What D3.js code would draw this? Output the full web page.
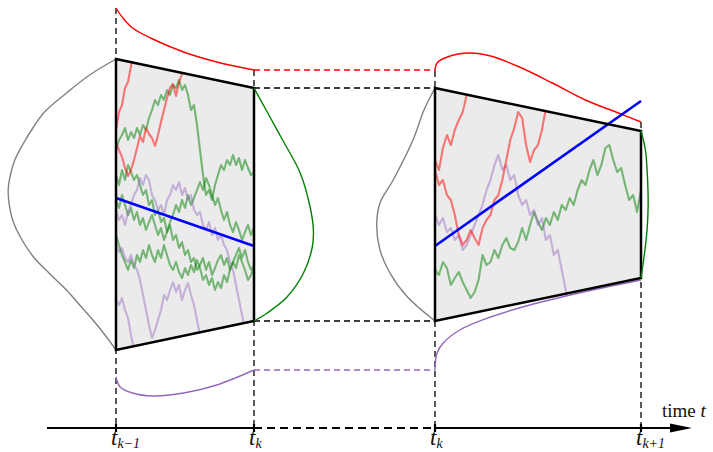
<!DOCTYPE html>
<html>
<head>
<meta charset="utf-8">
<script src="https://cdn.jsdelivr.net/npm/d3@7"></script>
<style>
  html, body { margin: 0; padding: 0; background: #fff; }
  svg { display: block; }
</style>
</head>
<body>
<svg id="chart" width="713" height="452"></svg>
<script>
// ---- Data ---------------------------------------------------------------
// State units: 0 is the centre of the first window, positive is upward.
// Time inside each window runs from 0 (window start) to 1 (window end).

// window boundaries [value at start, value at end]
const leftUpper  = [146, 117];
const leftLower  = [-145, -116];
const rightUpper = [117, 74];
const rightLower = [-116, -73];

// drift (mean) lines
const leftDrift  = [7, -41];
const rightDrift = [-41, 104];

// density of the state at window start / end: [state, density]
const leftStartDensity = [[146,0],[130,0.24],[112,0.45],[93,0.65],[78,0.75],[60,0.85],[45,0.92],[30,0.96],[15,0.98],[0,0.97],[-15,0.94],[-32,0.87],[-52,0.75],[-69,0.6],[-85,0.45],[-100,0.33],[-115,0.21],[-130,0.1],[-145,0]];
const leftEndDensity   = [[117,0],[95,0.11],[65,0.26],[32,0.42],[-2,0.51],[-25,0.54],[-42,0.53],[-68,0.45],[-92,0.3],[-108,0.12],[-116,0]];
const rightStartDensity = [[117,0],[95,0.1],[65,0.2],[25,0.38],[2,0.5],[-20,0.53],[-45,0.5],[-68,0.41],[-92,0.25],[-116,0]];
const rightEndDensity   = [[74,0],[55,0.04],[25,0.06],[0,0.065],[-25,0.055],[-50,0.03],[-73,0]];

// first-passage curves through the upper and lower boundary: [time, state]
const leftUpperHit  = [[0,197],[0.05,187],[0.12,177],[0.25,167],[0.49,153],[0.73,143],[1,135]];
const rightUpperHit = [[0,134],[0.01,142],[0.06,148],[0.17,152],[0.27,149],[0.41,138],[0.57,122],[0.73,105],[0.89,92],[1,83]];
const leftLowerHit  = [[0,-172],[0.03,-182],[0.12,-188],[0.27,-191],[0.49,-188],[0.73,-180],[1,-165]];
const rightLowerHit = [[0,-165],[0.01,-148],[0.04,-138],[0.12,-125],[0.27,-112],[0.46,-100],[0.7,-88],[1,-75]];

// sample paths, one value per time step (46 steps left, 52 steps right)
const leftSteps = 46, rightSteps = 52;
const leftPaths = [
  { kind: "alive", values: [55,65,70,77,65,73,67,77,70,80,75,87,95,105,100,110,105,115,110,120,117,125,115,120,110,95,100,80,55,30,10,15,5,20,30,40,35,45,40,50,40,47,35,45,37,30,33] },
  { kind: "alive", values: [30,20,35,25,40,33,25,30,20,10,15,0,5,-10,-5,-17,-13,-27,-20,-35,-30,-43,-37,-50,-45,-57,-53,-65,-60,-53,-65,-57,-70,-63,-55,-50,-60,-53,-65,-57,-50,-43,-53,-45,-57,-65,-60] },
  { kind: "alive", values: [-30,-40,-50,-57,-65,-55,-63,-50,-57,-45,-53,-40,-50,-57,-45,-53,-40,-50,-60,-65,-57,-67,-73,-63,-70,-60,-67,-55,-63,-75,-70,-80,-73,-85,-77,-83,-70,-77,-65,-57,-63,-50,-57,-65,-75,-70,-63] },
  { kind: "alive", values: [5,-3,10,0,-10,-3,-15,-7,-20,-13,-25,-17,-10,-20,-30,-23,-35,-27,-17,-10,0,-7,5,-3,10,0,7,15,23,15,27,20,10,0,7,-5,-15,-7,-20,-27,-17,-25,-35,-27,-20,-30,-23] },
  { kind: "down", values: [-5,-15,-10,-20,-7,0,10,15,27,20,30,25,10,5,-5,0,-10,5,10,20,15,23,10,17,5,10,-5,-10,-7,-20,-25,-17,-30,-23,-35,-30,-40,-45,-57,-65,-80,-95,-110,-125] },
  { kind: "down", values: [-95,-100,-93,-105,-113,-130,-145] },
  { kind: "down", values: [-40,-47,-43,-53,-57,-50,-60,-65,-75,-90,-105,-120,-133,-125,-115,-105,-90,-95,-85,-77,-87,-80,-95,-85,-78,-90,-100,-115,-130] },
  { kind: "up", values: [75,93,100,117,123,139,155] },
  { kind: "up", values: [62,55,48,37,29,35,45,57,69,63,77,71,67,59,70,83,95,107,117,121,109,123,131,145] }
];
const rightPaths = [
  { kind: "alive", values: [-65,-70,-57,-63,-80,-73,-67,-77,-85,-93,-87,-75,-50,-60,-57,-45,-53,-40,-33,-43,-45,-37,-23,-35,-20,-7,-17,-25,-13,-20,-7,-15,0,-5,7,0,15,25,20,35,45,30,40,57,60,45,33,37,20,5,10,-7,15] },
  { kind: "down", values: [-10,-20,-13,-27,-23,-35,-30,-45,-40,-30,-20,-10,0,15,25,40,50,35,40,25,30,10,0,5,-10,-5,-20,-13,-35,-30,-50,-45,-65,-85,-100] },
  { kind: "up", values: [45,35,57,70,60,75,85,93,110,120] },
  { kind: "up", values: [35,20,25,10,5,-10,-30,-40,-35,-25,-33,-40,-23,-15,-10,5,10,25,45,65,77,93,87,60,43,55,60,75,97,110] }
];

// time axis labels: [symbol, subscript]
const tickLabels = [["t", "k\u22121"], ["t", "k"], ["t", "k"], ["t", "k+1"]];
const axisTitle = ["time ", "t"];

// ---- Scales -------------------------------------------------------------
const svg = d3.select("#chart");
const y  = d3.scaleLinear().domain([-220, 200]).range([425, 5]);
const xL = d3.scaleLinear().domain([0, 1]).range([116, 254]);
const xR = d3.scaleLinear().domain([0, 1]).range([435, 641]);
const dens = d3.scaleLinear().domain([0, 1]).range([0, 110]);
const axisY = 428;
const serif = "'Liberation Serif', 'DejaVu Serif', serif";

const colors = { alive: "#008000", up: "#ff0000", down: "#9467bd" };
const smooth = d3.line().curve(d3.curveCatmullRom.alpha(0.5));
const dash = "6,4";

// ---- Time axis ------------------------------------------------------------
svg.append("line").attr("x1", 47).attr("x2", xL(1)).attr("y1", axisY).attr("y2", axisY)
  .attr("stroke", "#000").attr("stroke-width", 2);
svg.append("line").attr("x1", xL(1)).attr("x2", xR(0)).attr("y1", axisY).attr("y2", axisY)
  .attr("stroke", "#000").attr("stroke-width", 2).attr("stroke-dasharray", "8,5");
svg.append("line").attr("x1", xR(0)).attr("x2", 674).attr("y1", axisY).attr("y2", axisY)
  .attr("stroke", "#000").attr("stroke-width", 2);
svg.append("path").attr("d", `M670,${axisY - 4.5} L692,${axisY} L670,${axisY + 4.5} Z`).attr("fill", "#000");

const title = svg.append("text").attr("x", 662).attr("y", 417)
  .attr("font-family", serif).attr("font-size", 19).attr("fill", "#111");
title.append("tspan").text(axisTitle[0]);
title.append("tspan").attr("font-style", "italic").text(axisTitle[1]);

const tickX = [xL(0), xL(1), xR(0), xR(1)];

// ---- Vertical guides ------------------------------------------------------
const guideTops = [y(leftUpperHit[0][1]), y(leftUpperHit[leftUpperHit.length - 1][1]),
                   y(rightUpperHit[0][1]), y(rightUpperHit[rightUpperHit.length - 1][1])];
tickX.forEach((x, i) => {
  svg.append("line").attr("x1", x).attr("x2", x).attr("y1", guideTops[i]).attr("y2", axisY)
    .attr("stroke", "#000").attr("stroke-width", 1.3).attr("stroke-dasharray", dash);
  svg.append("line").attr("x1", x).attr("x2", x).attr("y1", axisY - 4).attr("y2", axisY + 4)
    .attr("stroke", "#000").attr("stroke-width", 2.2);
  const lab = svg.append("text").attr("x", x - 5).attr("y", 445)
    .attr("font-family", serif).attr("fill", "#111");
  lab.append("tspan").attr("font-style", "italic").attr("font-size", 23).text(tickLabels[i][0]);
  lab.append("tspan").attr("font-style", "italic").attr("font-size", 14).attr("dy", 3).text(tickLabels[i][1]);
});

// ---- Horizontal connectors between the two windows ------------------------
const connectors = [
  { v: leftUpperHit[leftUpperHit.length - 1][1], color: "#ff0000" },
  { v: leftUpper[1], color: "#000" },
  { v: leftLower[1], color: "#000" },
  { v: leftLowerHit[leftLowerHit.length - 1][1], color: "#9467bd" }
];
connectors.forEach(c => {
  svg.append("line").attr("x1", xL(1)).attr("x2", xR(0)).attr("y1", y(c.v)).attr("y2", y(c.v))
    .attr("stroke", c.color).attr("stroke-width", 1.3).attr("stroke-dasharray", dash);
});

// ---- One window: region, paths, drift, boundaries ---------------------------
function drawWindow(id, x, upper, lower, drift, paths, steps) {
  const corners = [[x(0), y(upper[0])], [x(1), y(upper[1])], [x(1), y(lower[1])], [x(0), y(lower[0])]];
  svg.append("clipPath").attr("id", id).append("polygon").attr("points", corners.map(p => p.join(",")).join(" "));
  svg.append("polygon").attr("points", corners.map(p => p.join(",")).join(" ")).attr("fill", "#ebebeb");

  const g = svg.append("g").attr("clip-path", `url(#${id})`);
  const pathLine = d3.line().x((d, i) => x(i / steps)).y(d => y(d));
  paths.forEach(p => {
    g.append("path").attr("d", pathLine(p.values)).attr("fill", "none")
      .attr("stroke", colors[p.kind]).attr("stroke-opacity", p.kind === "down" ? 0.45 : 0.5)
      .attr("stroke-width", 2.1).attr("stroke-linejoin", "round");
  });

  svg.append("line").attr("x1", x(0)).attr("x2", x(1)).attr("y1", y(drift[0])).attr("y2", y(drift[1]))
    .attr("stroke", "#0000ff").attr("stroke-width", 2.6);

  svg.append("polygon").attr("points", corners.map(p => p.join(",")).join(" "))
    .attr("fill", "none").attr("stroke", "#000").attr("stroke-width", 2.5).attr("stroke-linejoin", "miter");
}

// densities drawn sideways off the window edges
function drawDensity(data, x0, dir, color) {
  svg.append("path").attr("d", smooth(data.map(d => [x0 + dir * dens(d[1]), y(d[0])])))
    .attr("fill", "none").attr("stroke", color).attr("stroke-width", 1.4);
}
function drawHit(data, x, color) {
  svg.append("path").attr("d", smooth(data.map(d => [x(d[0]), y(d[1])])))
    .attr("fill", "none").attr("stroke", color).attr("stroke-width", 1.4);
}

drawDensity(leftStartDensity, xL(0), -1, "#808080");
drawDensity(rightStartDensity, xR(0), -1, "#808080");
drawHit(leftUpperHit, xL, "#ff0000");
drawHit(rightUpperHit, xR, "#ff0000");
drawHit(leftLowerHit, xL, "#9467bd");
drawHit(rightLowerHit, xR, "#9467bd");

drawWindow("clipLeft", xL, leftUpper, leftLower, leftDrift, leftPaths, leftSteps);
drawWindow("clipRight", xR, rightUpper, rightLower, rightDrift, rightPaths, rightSteps);

drawDensity(leftEndDensity, xL(1), 1, "#008000");
drawDensity(rightEndDensity, xR(1), 1, "#008000");
</script>
</body>
</html>
